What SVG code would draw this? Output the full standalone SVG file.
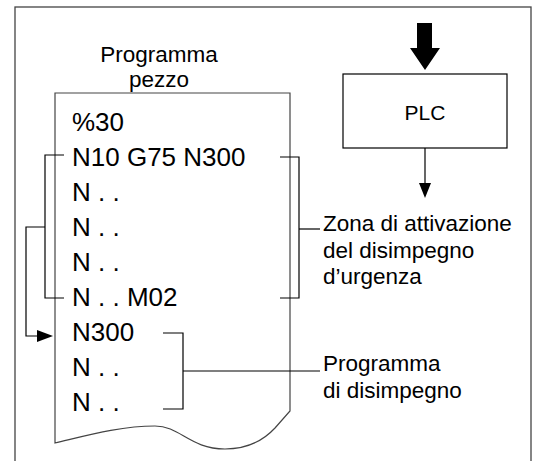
<svg xmlns="http://www.w3.org/2000/svg" width="538" height="461" viewBox="0 0 538 461">
<defs>
<style>
text{font-family:"Liberation Sans",Arial,sans-serif;fill:#000}
.code{font-size:26px}
.lbl{font-size:22.5px}
.ln{fill:none;stroke:#000;stroke-width:1.2}
.gl{fill:none;stroke:#444;stroke-width:1.2}
</style>
<marker id="ah" markerWidth="16" markerHeight="12" refX="16" refY="6" orient="auto" markerUnits="userSpaceOnUse">
<path d="M0,0 L16,6 L0,12 Z" fill="#000"/>
</marker>
</defs>
<rect x="0" y="0" width="538" height="461" fill="#fff"/>
<rect id="frame" x="15" y="7" width="516" height="470" fill="none" stroke="#444" stroke-width="1.3"/>

<g id="title">
<text class="lbl" x="159" y="62" text-anchor="middle">Programma</text>
<text class="lbl" x="159" y="87" text-anchor="middle">pezzo</text>
</g>

<g id="page">
<path class="gl" d="M55,93 L290,93 L290,411 L275,428 C262,442 245,449 225,449 C190,449 180,426 155,426 C120,426 85,436 55,443 Z" fill="#fff"/>
<text class="code" x="72" y="131">%30</text>
<text class="code" x="72" y="166">N10 G75 N300</text>
<text class="code" x="72" y="201">N . .</text>
<text class="code" x="72" y="236">N . .</text>
<text class="code" x="72" y="271">N . .</text>
<text class="code" x="72" y="306">N . . M02</text>
<text class="code" x="72" y="341">N300</text>
<text class="code" x="72" y="376">N . .</text>
<text class="code" x="72" y="411">N . .</text>
</g>

<g id="plc">
<rect x="343" y="74" width="164" height="74" fill="#fff" stroke="#000" stroke-width="1.2"/>
<text x="425" y="120" font-size="21" text-anchor="middle">PLC</text>
</g>

<g id="zona-label">
<text class="lbl" x="323" y="231">Zona di attivazione</text>
<text class="lbl" x="323" y="258">del disimpegno</text>
<text class="lbl" x="323" y="284">d’urgenza</text>
</g>

<g id="disimpegno-label">
<text class="lbl" x="323" y="371">Programma</text>
<text class="lbl" x="323" y="398">di disimpegno</text>
</g>

<g id="connectors">
<path d="M417,23 H432 V48 H440 L425,70 L410,48 H417 Z" fill="#000"/>
<path class="ln" d="M425,148 V183"/>
<path d="M419,183 L431,183 L425,198 Z" fill="#000"/>
<path class="ln" d="M64,155 H45 V298 H64"/>
<path class="ln" d="M45,227 H26 V336 H37"/>
<path d="M37,330 L53,336 L37,342 Z" fill="#000"/>
<path class="ln" d="M280,157 H299 V298 H280"/>
<path class="ln" d="M299,229 H320"/>
<path class="ln" d="M163,333 H183 V409 H163"/>
<path class="ln" d="M183,371 H320"/>
</g>
</svg>
